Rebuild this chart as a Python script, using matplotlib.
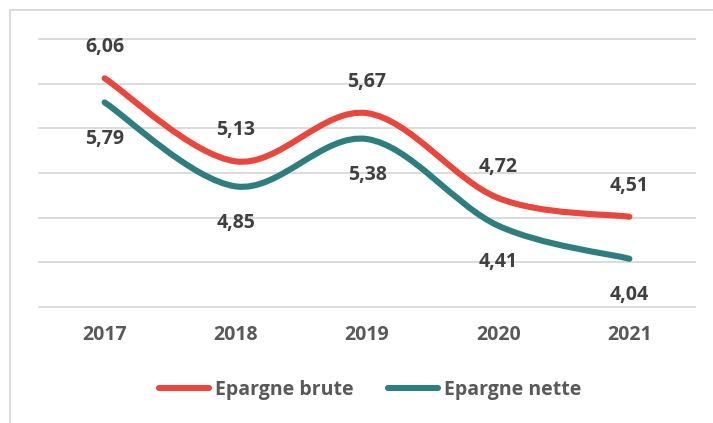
import matplotlib
matplotlib.use("Agg")
import matplotlib.pyplot as plt
from matplotlib.path import Path
from matplotlib.patches import PathPatch, Rectangle
from matplotlib.lines import Line2D

years = ["2017", "2018", "2019", "2020", "2021"]
brute = [6.06, 5.13, 5.67, 4.72, 4.51]
nette = [5.79, 4.85, 5.38, 4.41, 4.04]
brute_labels = ["6,06", "5,13", "5,67", "4,72", "4,51"]
nette_labels = ["5,79", "4,85", "5,38", "4,41", "4,04"]

RED = "#E8473D"
TEAL = "#2E7E80"
FONT = "Open Sans"
FS = 14

plt.rcParams['font.family'] = [FONT, 'DejaVu Sans']

fig = plt.figure(figsize=(7.13, 4.23), dpi=100)
ax = fig.add_axes([39/713, 1-307/423, (695-39)/713, (307-39)/423])
ax.set_xlim(-0.5, 4.5)
ax.set_ylim(3.5, 6.5)

for v in [3.5, 4.0, 4.5, 5.0, 5.5, 6.0, 6.5]:
    ax.axhline(v, color="#D9D9D9", lw=1.3, zorder=0, clip_on=False)

def smooth_path(xs, ys):
    pts = list(zip(xs, ys))
    n = len(pts)
    verts = [pts[0]]
    codes = [Path.MOVETO]
    for i in range(n - 1):
        p0 = pts[i - 1] if i > 0 else pts[i]
        p1 = pts[i]
        p2 = pts[i + 1]
        p3 = pts[i + 2] if i + 2 < n else pts[i + 1]
        c1 = (p1[0] + (p2[0] - p0[0]) / 6, p1[1] + (p2[1] - p0[1]) / 6)
        c2 = (p2[0] - (p3[0] - p1[0]) / 6, p2[1] - (p3[1] - p1[1]) / 6)
        verts += [c1, c2, p2]
        codes += [Path.CURVE4] * 3
    return Path(verts, codes)

xs = list(range(len(years)))
for vals, col in [(nette, TEAL), (brute, RED)]:
    ax.add_patch(PathPatch(smooth_path(xs, vals), fill=False, edgecolor=col,
                           lw=4.4, capstyle="round", joinstyle="round", zorder=3))

for x, v, t in zip(xs, brute, brute_labels):
    ax.annotate(t, (x, v), xytext=(0, 22.5), textcoords="offset points",
                ha="center", va="center", fontsize=FS, fontweight="bold",
                color="#404040", zorder=4)
for x, v, t in zip(xs, nette, nette_labels):
    ax.annotate(t, (x, v), xytext=(0, -26), textcoords="offset points",
                ha="center", va="center", fontsize=FS, fontweight="bold",
                color="#404040", zorder=4)

ax.set_xticks(xs)
ax.set_xticklabels(years, fontsize=FS, fontweight="bold", color="#595959")
ax.tick_params(axis="x", length=0, pad=13)
ax.set_yticks([])
for s in ax.spines.values():
    s.set_visible(False)

handles = [Line2D([], [], color=RED, lw=4.4, solid_capstyle="round"),
           Line2D([], [], color=TEAL, lw=4.4, solid_capstyle="round")]
leg = fig.legend(handles, ["Epargne brute", "Epargne nette"], loc="center",
                 bbox_to_anchor=(370/713, 1-390/423), ncol=2, frameon=False,
                 handlelength=2.55, handletextpad=0.3, columnspacing=1.8,
                 prop={"size": FS, "weight": "bold", "family": FONT})
for t in leg.get_texts():
    t.set_color("#595959")

fig.add_artist(Rectangle((10/713, -0.1), 1.2, 1 - 10.5/423 + 0.1,
                         transform=fig.transFigure, fill=False,
                         edgecolor="#D9D9D9", lw=1.3))

fig.savefig("out.png", dpi=100)
